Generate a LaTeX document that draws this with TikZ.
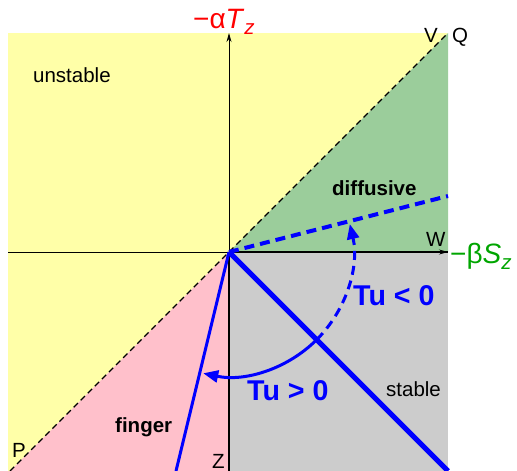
\documentclass[tikz,border=0pt]{standalone}
\usepackage{fontspec}
\setmainfont{Liberation Sans}
\usetikzlibrary{arrows.meta}
\definecolor{cyellow}{RGB}{255,255,168}
\definecolor{cgreen}{RGB}{155,205,155}
\definecolor{cgray}{RGB}{204,204,204}
\definecolor{cpink}{RGB}{255,192,203}
\definecolor{ctxtgreen}{RGB}{0,165,0}
\begin{document}
\begin{tikzpicture}[x=1pt,y=-1pt,
  lbl/.style={inner sep=0pt, anchor=base west, font=\fontsize{20.5}{24}\selectfont},
  blbl/.style={lbl, font=\fontsize{20.5}{24}\selectfont\bfseries},
  tu/.style={inner sep=0pt, anchor=base west, text=blue, font=\fontsize{28.6}{32}\selectfont\bfseries},
  axlab/.style={inner sep=0pt, anchor=base west, font=\fontsize{28}{30}\selectfont},
  axis/.style={draw=black, line width=0.9pt, -{Stealth[length=9pt,width=5pt]}},
  bound/.style={draw=black, line width=1.8pt},
  diag/.style={draw=black, line width=1.4pt, dash pattern=on 6pt off 4pt},
  bthick/.style={draw=blue, line width=5pt},
  bmid/.style={draw=blue, line width=3pt},
  bdash/.style={draw=blue, line width=4pt, dash pattern=on 10pt off 6pt},
  barc/.style={draw=blue, line width=3pt, -{Triangle[length=15pt,width=12pt]}},
  barcd/.style={draw=blue, line width=3pt, dash pattern=on 9pt off 6pt, -{Triangle[length=15pt,width=12pt]}}]
\useasboundingbox (0,0) rectangle (517,471);
\coordinate (O) at (229,252);
\coordinate (Qc) at (448,33);
\coordinate (TL) at (8,33);
\coordinate (BL) at (8,471);
\coordinate (Pc) at (10,471);
\coordinate (Zc) at (229,471);
\coordinate (BR) at (448,471);
\coordinate (Wc) at (448,252);
\coordinate (D) at (448,196);
\coordinate (F) at (176,471);
\coordinate (Ytop) at (229,33);
\coordinate (Xleft) at (8,252);
% regions
\fill[cyellow] (TL) -- (Qc) -- (Pc) -- (BL) -- cycle;
\fill[cgreen] (O) -- (Qc) -- (Wc) -- cycle;
\fill[cgray] (O) -- (Wc) -- (BR) -- (Zc) -- cycle;
\fill[cpink] (O) -- (Zc) -- (Pc) -- cycle;
% axes
\draw[axis] (Xleft) -- (Wc);
\draw[axis] (Zc) -- (Ytop);
\draw[bound] (O) -- (Wc);
\draw[bound] (O) -- (Zc);
\draw[diag] (Pc) -- (Qc);
% blue lines
\draw[bthick] (O) -- (BR);
\draw[bmid] (O) -- (F);
\draw[bdash] (O) -- (D);
\draw[barc] (O) ++(45:124) arc[start angle=45, end angle=102, radius=124];
\draw[barcd] (O) ++(45:124) arc[start angle=45, end angle=-13, radius=124];
% labels
\node[axlab, text=red] (ylab) at (193,28) {−α\textit{T}\raisebox{-0.22em}{\fontsize{20.5}{20}\selectfont\itshape z}};
\node[axlab, text=ctxtgreen] (xlab) at (450,263) {−β\textit{S}\raisebox{-0.22em}{\fontsize{20.5}{20}\selectfont\itshape z}};
\node[lbl] (unstable) at (33,82) {unstable};
\node[blbl] (diffusive) at (332,195) {diffusive};
\node[blbl] (finger) at (115,432) {finger};
\node[lbl] (stable) at (386,396) {stable};
\node[tu] (tuneg) at (353,305) {Tu < 0};
\node[tu] (tupos) at (247,400) {Tu > 0};
\node[lbl] (Vlbl) at (424,42) {V};
\node[lbl] (Qlbl) at (452,42) {Q};
\node[lbl] (Wlbl) at (426,246) {W};
\node[lbl] (Plbl) at (12,457) {P};
\node[lbl] (Zlbl) at (212,468) {Z};
\end{tikzpicture}
\end{document}
